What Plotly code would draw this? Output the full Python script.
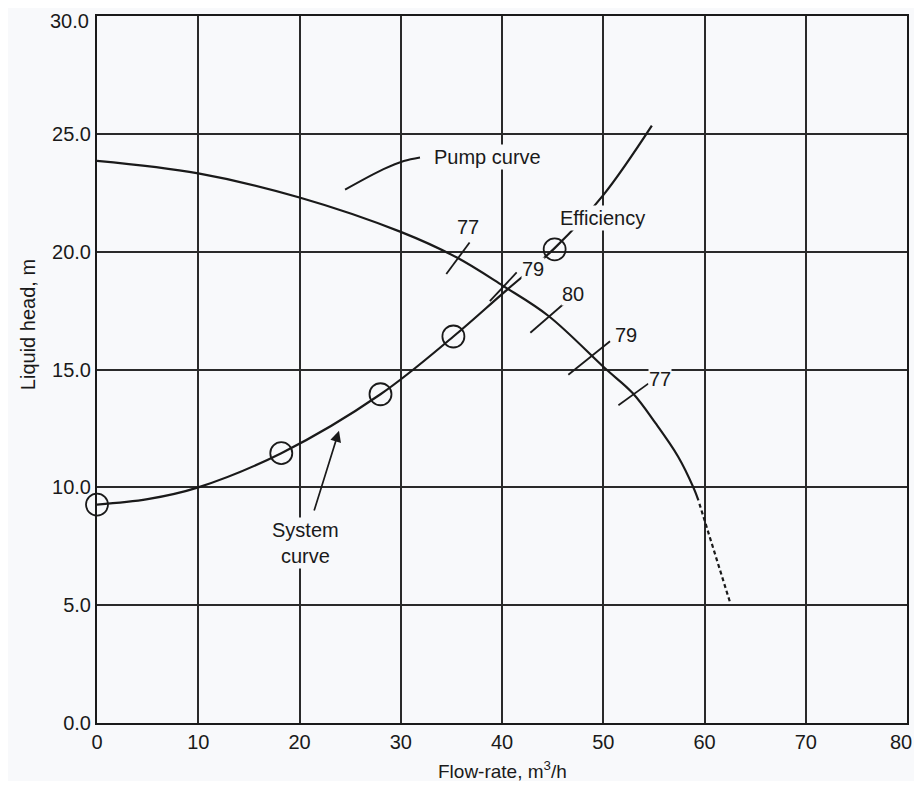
import plotly.graph_objects as go

# Pump curve (solid part) and its dashed tail
pump_q = [0, 10, 20, 30, 35.5, 40.1, 44.6, 50.2, 52.9, 55.2, 57.4, 58.9, 59.4]
pump_h = [23.85, 23.32, 22.3, 20.84, 19.76, 18.55, 17.27, 15.04, 14.0, 12.7, 11.3, 10.0, 9.45]
tail_q = [59.5, 62.5]
tail_h = [9.3, 5.15]

# System curve and measured points (circles)
sys_q = [0, 5, 10, 18.2, 28, 35.2, 40, 45.2, 50, 54.8]
sys_h = [9.27, 9.5, 10.0, 11.45, 13.95, 16.4, 18.2, 20.15, 22.4, 25.35]
pts_q = [0, 18.2, 28, 35.2, 45.2]
pts_h = [9.27, 11.45, 13.95, 16.4, 20.1]

# Efficiency tick marks on pump curve
eff_labels = ["77", "79", "80", "79", "77"]
eff_q0 = [34.5, 38.8, 42.8, 46.55, 51.5]
eff_h0 = [19.05, 17.9, 16.56, 14.78, 13.48]
eff_q1 = [36.8, 41.45, 46.05, 50.67, 54.45]
eff_h1 = [20.39, 19.12, 17.77, 16.2, 14.4]
eff_lq = [36.6, 43.1, 47.0, 52.2, 55.6]
eff_lh = [21.05, 19.25, 18.2, 16.45, 14.6]

# Pump-curve leader line
lead_q = [24.5, 28.3, 30.3, 31.9]
lead_h = [22.63, 23.5, 23.85, 24.0]

x_ticks = [0, 10, 20, 30, 40, 50, 60, 70, 80]
y_ticks = [0, 5, 10, 15, 20, 25, 30]
x_labels = [str(v) for v in x_ticks]
y_labels = [f"{v:.1f}" for v in y_ticks]

BG = "#f8f9fb"
INK = "#1a1a1a"
FONT = "Arial, Liberation Sans, sans-serif"
FS = 20

fig = go.Figure()
fig.add_trace(go.Scatter(x=pump_q, y=pump_h, mode="lines", line=dict(color=INK, width=2.2, shape="spline", smoothing=1.0), hoverinfo="skip"))
fig.add_trace(go.Scatter(x=tail_q, y=tail_h, mode="lines", line=dict(color=INK, width=2.2, dash="4px,3px"), hoverinfo="skip"))
fig.add_trace(go.Scatter(x=sys_q, y=sys_h, mode="lines", line=dict(color=INK, width=2.2, shape="spline", smoothing=1.0), hoverinfo="skip"))
fig.add_trace(go.Scatter(x=pts_q, y=pts_h, mode="markers", cliponaxis=False,
                         marker=dict(symbol="circle-open", size=22, color=INK, line=dict(width=1.8, color=INK)), hoverinfo="skip"))
for a, b, c, d in zip(eff_q0, eff_h0, eff_q1, eff_h1):
    fig.add_trace(go.Scatter(x=[a, c], y=[b, d], mode="lines", line=dict(color=INK, width=1.8), hoverinfo="skip"))
fig.add_trace(go.Scatter(x=lead_q, y=lead_h, mode="lines", line=dict(color=INK, width=2, shape="spline"), hoverinfo="skip"))

ann = []
for t, q, h in zip(eff_labels, eff_lq, eff_lh):
    ann.append(dict(x=q, y=h, text=t, showarrow=False, font=dict(size=FS, color=INK, family=FONT), bgcolor=BG, borderpad=0))
ann.append(dict(x=38.6, y=24.0, text="Pump curve", showarrow=False, font=dict(size=FS, color=INK, family=FONT), bgcolor=BG, borderpad=1))
ann.append(dict(x=49.9, y=21.45, text="Efficiency", showarrow=False, font=dict(size=FS, color=INK, family=FONT), bgcolor=BG, borderpad=1))
ann.append(dict(x=20.6, y=7.65, text="System<br>curve", showarrow=False, font=dict(size=FS, color=INK, family=FONT), bgcolor=BG, borderpad=1))
ann.append(dict(x=23.9, y=12.4, ax=21.4, ay=8.95, axref="x", ayref="y", xref="x", yref="y", text="", showarrow=True,
                arrowhead=2, arrowsize=1.3, arrowwidth=1.7, arrowcolor=INK))
ann.append(dict(x=-0.101, y=0.563, xref="paper", yref="paper", text="Liquid head, m", textangle=-90, showarrow=False,
                font=dict(size=FS, color=INK, family=FONT)))
ann.append(dict(x=0.5, y=-0.0665, xref="paper", yref="paper", text="Flow-rate, m<sup>3</sup>/h", showarrow=False,
                yanchor="middle", font=dict(size=19, color=INK, family=FONT)))
# edge tick labels kept inside the page
ann.append(dict(x=x_ticks[-1], y=0, xref="x", yref="paper", text=x_labels[-1], showarrow=False,
                xanchor="right", yanchor="middle", xshift=7, yshift=-19, font=dict(size=FS, color=INK, family=FONT)))
ann.append(dict(x=0, y=y_ticks[-1], xref="paper", yref="y", text=y_labels[-1], showarrow=False,
                xanchor="right", yanchor="top", xshift=-6, yshift=8, font=dict(size=FS, color=INK, family=FONT)))

fig.update_layout(
    width=906, height=773,
    margin=dict(l=89, r=7, t=8, b=58),
    paper_bgcolor=BG, plot_bgcolor=BG,
    showlegend=False,
    font=dict(family=FONT, size=FS, color=INK),
    annotations=ann,
)
fig.update_xaxes(range=[0, 80], tickvals=x_ticks, ticktext=x_labels[:-1] + [""], automargin=False,
                 showgrid=True, gridcolor="#2a2a2a", gridwidth=2, zeroline=False,
                 showline=True, linecolor=INK, linewidth=2, mirror=True, ticks="",
                 tickfont=dict(size=FS, color=INK, family=FONT))
fig.update_yaxes(range=[0, 30], tickvals=y_ticks, ticktext=y_labels[:-1] + [""], automargin=False,
                 showgrid=True, gridcolor="#2a2a2a", gridwidth=2, zeroline=False,
                 showline=True, linecolor=INK, linewidth=2, mirror=True, ticks="",
                 tickfont=dict(size=FS, color=INK, family=FONT))

fig.write_html("out.html")
